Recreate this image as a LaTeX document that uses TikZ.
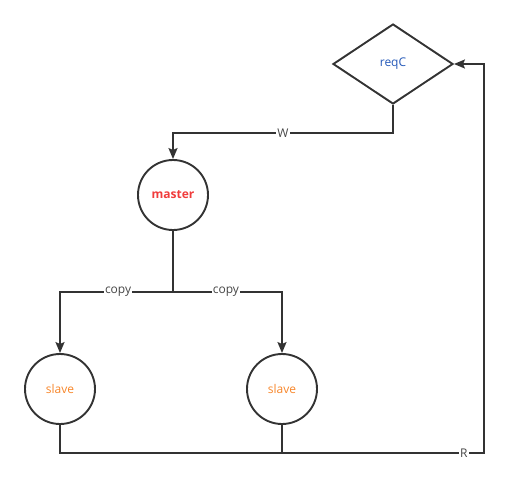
\documentclass[tikz,border=0pt]{standalone}
\usepackage{fontspec}
\setmainfont{Open Sans}
\usetikzlibrary{arrows.meta,shapes.geometric}
\definecolor{ink}{HTML}{333333}
\definecolor{reqblue}{HTML}{2458B8}
\definecolor{masterred}{HTML}{F03C3C}
\definecolor{slaveorange}{HTML}{F7862A}
\tikzset{
  stateball/.style={circle, draw=ink, line width=1.9pt, minimum size=70pt, inner sep=0pt, font=\fontsize{12}{14}\selectfont},
  decision/.style={diamond, draw=ink, line width=1.9pt, minimum width=120pt, minimum height=80pt, aspect=1.5, inner sep=0pt, font=\fontsize{12}{14}\selectfont},
  flow/.style={draw=ink, line width=1.9pt, -{Stealth[length=11pt,width=9pt,inset=2pt]}},
  plain/.style={draw=ink, line width=1.9pt},
  tag/.style={fill=white, inner sep=1pt, text=ink!90, font=\fontsize{12}{14}\selectfont}
}
\begin{document}
\begin{tikzpicture}[x=1pt,y=-1pt]
  \useasboundingbox (0,0) rectangle (508,479);
  % nodes
  \node[decision, text=reqblue] (req) at (393,64) {reqC};
  \node[stateball, text=masterred, font=\fontsize{12}{14}\selectfont\bfseries] (master) at (173,195) {master};
  \node[stateball, text=slaveorange] (slaveA) at (60,389) {slave};
  \node[stateball, text=slaveorange] (slaveB) at (282,389) {slave};
  % junction points
  \coordinate (split) at (173,292);
  \coordinate (merge) at (282,453);
  % write path
  \draw[flow] (req.south) -- ++(0,28) -| node[tag, pos=0.25] {W} (master.north);
  % replication
  \draw[plain] (master.south) -- (split);
  \draw[flow] (split) -| node[tag, pos=0.243] {copy} (slaveA.north);
  \draw[flow] (split) -| node[tag, pos=0.243] {copy} (slaveB.north);
  % read path
  \draw[plain] (slaveA.south) |- (merge);
  \draw[plain] (slaveB.south) -- (merge);
  \draw[flow] (merge) -- (484,453) node[tag, pos=0.9] {R} -- (484,64) -- (req.east);
\end{tikzpicture}
\end{document}
